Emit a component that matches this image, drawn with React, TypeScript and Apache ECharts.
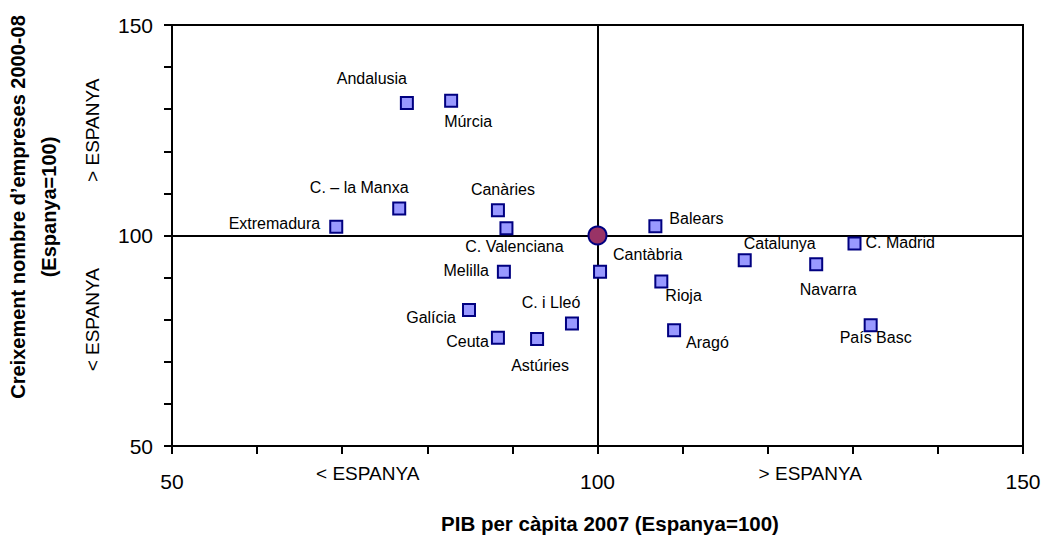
import React, { useEffect, useRef } from "react";
import * as echarts from "echarts";

// ---- data ----
const regions = [
  "Andalusia", "Múrcia", "C. – la Manxa", "Extremadura", "Canàries", "C. Valenciana",
  "Melilla", "Galícia", "Ceuta", "Astúries", "C. i Lleó", "Cantàbria", "Balears",
  "Rioja", "Aragó", "Catalunya", "Navarra", "C. Madrid", "País Basc",
];
const pibPerCapita = [
  77.6, 82.8, 76.7, 69.3, 88.3, 89.3, 89.0, 84.9, 88.3, 92.9, 97.0, 100.3, 106.8,
  107.5, 109.0, 117.3, 125.7, 130.2, 132.1,
];
const creixementEmpreses = [
  131.5, 132.0, 106.4, 102.1, 106.0, 101.7, 91.4, 82.3, 75.7, 75.4, 79.1, 91.4, 102.2,
  89.1, 77.5, 94.1, 93.2, 98.1, 78.7,
];
const spain = { name: "Espanya", x: 100, y: 100 };
const xTickLabels = [50, 100, 150];
const yTickLabels = [50, 100, 150];
const xZoneLabels: Record<number, string> = { 73: "< ESPANYA", 125: "> ESPANYA" };
const yZoneLabels: Record<number, string> = { 80: "< ESPANYA", 125: "> ESPANYA" };
const xTitle = "PIB per càpita 2007 (Espanya=100)";
const yTitle = ["Creixement nombre d’empreses 2000-08", "(Espanya=100)"];

// label placement (layout only): [align, dx, dy]
const labelPlacement: [string, number, number][] = [
  ["center", -35, -24],
  ["left", -7, 21],
  ["center", -40, -21],
  ["right", -16, -3],
  ["center", 5, -21],
  ["center", 8, 18],
  ["right", -15, -1],
  ["right", -13, 7],
  ["right", -9, 4],
  ["center", 3, 26],
  ["center", -21, -21],
  ["left", 13, -17],
  ["left", 14, -8],
  ["left", 4, 14],
  ["left", 12, 12],
  ["center", 35, -17],
  ["center", 12, 25],
  ["left", 11, -1],
  ["center", 5, 12],
];

const FONT = "'Liberation Sans', Arial, Helvetica, sans-serif";

export default function App() {
  const ref = useRef<HTMLDivElement>(null);
  useEffect(() => {
    if (!ref.current) return;
    const chart = echarts.init(ref.current, null, { renderer: "svg" });
    const points = regions.map((name, i) => ({
      name,
      value: [pibPerCapita[i], creixementEmpreses[i]],
      label: {
        show: true,
        formatter: name,
        position: "inside",
        align: labelPlacement[i][0],
        verticalAlign: "middle",
        offset: [labelPlacement[i][1], labelPlacement[i][2]],
        fontSize: 16,
        fontFamily: FONT,
        color: "#000",
      },
    }));
    const axisLineStyle = { color: "#000", width: 2 };
    chart.setOption({
      animation: false,
      backgroundColor: "#fff",
      textStyle: { fontFamily: FONT },
      grid: {
        left: 172,
        right: 25,
        top: 25,
        bottom: 91,
        show: true,
        borderColor: "#000",
        borderWidth: 2,
        containLabel: false,
      },
      xAxis: [
        {
          type: "value",
          min: 50,
          max: 150,
          interval: 10,
          position: "bottom",
          axisLine: { show: true, lineStyle: axisLineStyle },
          axisTick: { show: true, length: 8, inside: false, lineStyle: axisLineStyle },
          splitLine: { show: false },
          axisLabel: {
            formatter: (v: number) => (xTickLabels.includes(v) ? String(v) : ""),
            fontSize: 21,
            color: "#000",
            margin: 25,
            fontFamily: FONT,
          },
        },
        {
          type: "value",
          min: 50,
          max: 150,
          interval: 1,
          position: "bottom",
          offset: 0,
          axisLine: { show: false },
          axisTick: { show: false },
          splitLine: { show: false },
          axisLabel: {
            formatter: (v: number) => xZoneLabels[v] || "",
            fontSize: 19,
            color: "#000",
            margin: 18,
            fontFamily: FONT,
          },
        },
      ],
      yAxis: [
        {
          type: "value",
          min: 50,
          max: 150,
          interval: 10,
          position: "left",
          axisLine: { show: true, lineStyle: axisLineStyle },
          axisTick: { show: true, length: 8, inside: false, lineStyle: axisLineStyle },
          splitLine: { show: false },
          axisLabel: {
            formatter: (v: number) => (yTickLabels.includes(v) ? String(v) : ""),
            fontSize: 21,
            color: "#000",
            margin: 19,
            fontFamily: FONT,
          },
        },
        {
          type: "value",
          min: 50,
          max: 150,
          interval: 5,
          position: "left",
          offset: 0,
          axisLine: { show: false },
          axisTick: { show: false },
          splitLine: { show: false },
          axisLabel: {
            formatter: (v: number) => yZoneLabels[v] || "",
            rotate: 90,
            fontSize: 19,
            color: "#000",
            margin: 70,
            fontFamily: FONT,
          },
        },
      ],
      series: [
        {
          type: "scatter",
          xAxisIndex: 0,
          yAxisIndex: 0,
          symbol: "rect",
          symbolSize: 12,
          itemStyle: { color: "#9999FF", borderColor: "#000080", borderWidth: 2, opacity: 1 },
          data: points,
          z: 4,
          markLine: {
            silent: true,
            symbol: ["none", "none"],
            label: { show: false },
            lineStyle: { color: "#000", width: 2, type: "solid" },
            data: [{ xAxis: spain.x }, { yAxis: spain.y }],
            z: 2,
          },
        },
        {
          type: "scatter",
          xAxisIndex: 0,
          yAxisIndex: 0,
          symbol: "circle",
          symbolSize: 18,
          itemStyle: { color: "#993366", borderColor: "#000080", borderWidth: 2, opacity: 1 },
          data: [{ name: spain.name, value: [spain.x, spain.y] }],
          z: 5,
        },
      ],
      graphic: [
        {
          type: "text",
          x: 610,
          y: 523,
          style: {
            text: xTitle,
            fontSize: 20.5,
            fontWeight: "bold",
            fontFamily: FONT,
            fill: "#000",
            align: "center",
            verticalAlign: "middle",
          },
        },
        {
          type: "text",
          x: 33,
          y: 207,
          rotation: Math.PI / 2,
          style: {
            text: yTitle.join("\n"),
            fontSize: 20,
            lineHeight: 31,
            fontWeight: "bold",
            fontFamily: FONT,
            fill: "#000",
            align: "center",
            verticalAlign: "middle",
          },
        },
      ],
    });
    return () => chart.dispose();
  }, []);
  return (
    <div
      ref={ref}
      style={{ position: "fixed", left: 0, top: 0, width: 1048, height: 537 }}
    />
  );
}
